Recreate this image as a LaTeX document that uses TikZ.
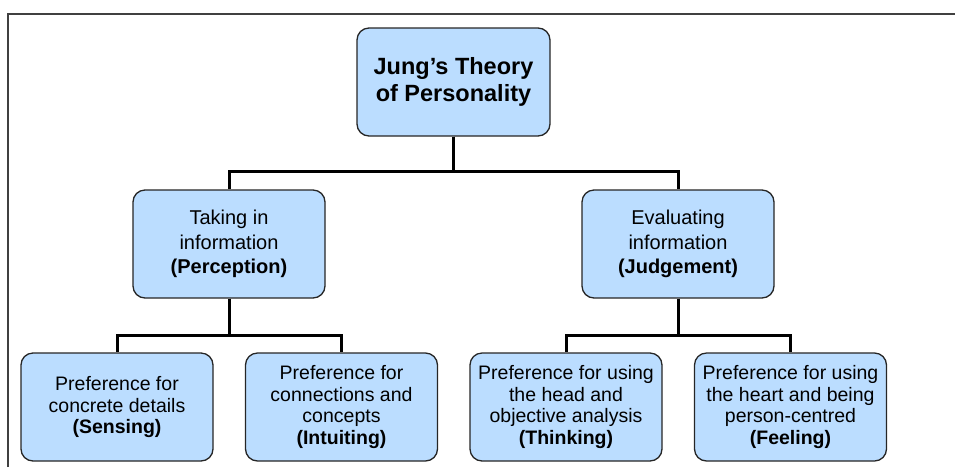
\documentclass[tikz,border=0pt]{standalone}
\usepackage{fontspec}
\setmainfont{Liberation Sans}
\usepackage{xcolor}
\usetikzlibrary{positioning}

\definecolor{boxblue}{RGB}{187,221,255}

\tikzset{
  box/.style={draw=black!85, line width=1.3pt, fill=boxblue, rounded corners=12pt,
    minimum width=192pt, minimum height=108pt, inner sep=2pt, align=center},
  topbox/.style={box, minimum width=193pt, font=\fontsize{23.5}{27.5}\selectfont\bfseries},
  midbox/.style={box, font=\fontsize{20}{24.5}\selectfont},
  leafbox/.style={box, font=\fontsize{19.5}{21.5}\selectfont},
  conn/.style={line width=3pt, black}
}

\begin{document}
\begin{tikzpicture}[x=1pt,y=-1pt]

\useasboundingbox (0,0) rectangle (955,467);

% Frame
\draw[line width=1.2pt, black!75] (8,467) -- (8,14) -- (955,14);

% Top
\node[topbox] (jung) at (453.5,82) {Jung’s Theory\\of Personality};

% Middle level
\node[midbox] (perc) at (229,244) {Taking in\\information\\\textbf{(Perception)}};
\node[midbox] (judg) at (678,244) {Evaluating\\information\\\textbf{(Judgement)}};

% Bottom level
\node[leafbox] (sens) at (117,407) {Preference for\\concrete details\\\textbf{(Sensing)}};
\node[leafbox] (intu) at (341.5,407) {Preference for\\connections and\\concepts\\\textbf{(Intuiting)}};
\node[leafbox] (thin) at (566,407) {Preference for using\\the head and\\objective analysis\\\textbf{(Thinking)}};
\node[leafbox] (feel) at (790.5,407) {Preference for using\\the heart and being\\person-centred\\\textbf{(Feeling)}};

% Connectors
\draw[conn] (jung.south) -- ++(0,35) -| (perc.north);
\draw[conn] (jung.south) -- ++(0,35) -| (judg.north);

\draw[conn] (perc.south) -- ++(0,37) -| (sens.north);
\draw[conn] (perc.south) -- ++(0,37) -| (intu.north);

\draw[conn] (judg.south) -- ++(0,37) -| (thin.north);
\draw[conn] (judg.south) -- ++(0,37) -| (feel.north);

\end{tikzpicture}
\end{document}
